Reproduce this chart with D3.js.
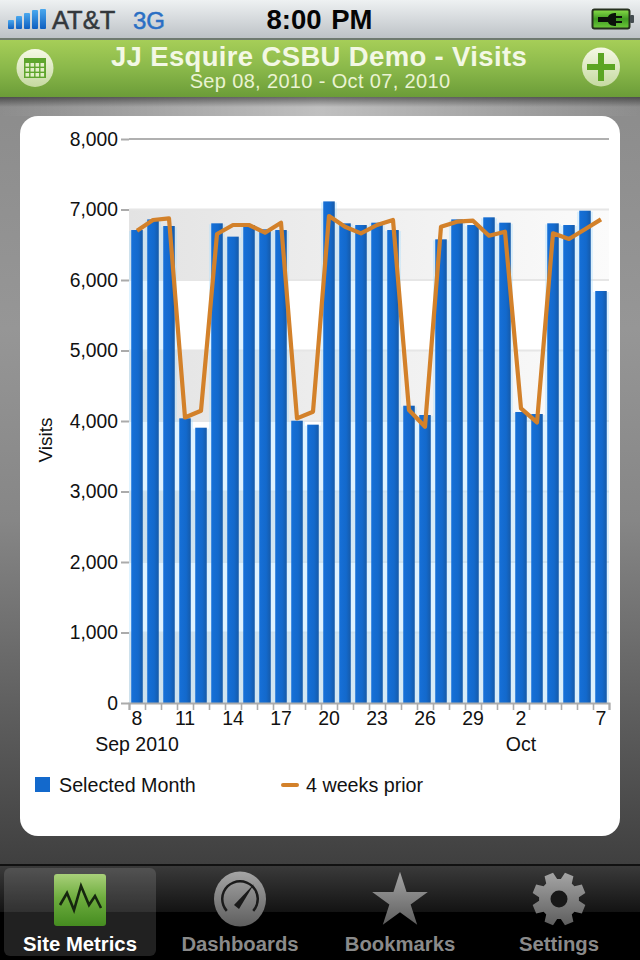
<!DOCTYPE html>
<html>
<head>
<meta charset="utf-8">
<script src="https://cdn.jsdelivr.net/npm/d3@7/dist/d3.min.js"></script>
<style>
  html, body { margin: 0; padding: 0; background: #000; }
  svg { display: block; }
  text { font-family: "Liberation Sans", Arial, sans-serif; }
</style>
</head>
<body>
<svg id="screen" width="640" height="960"></svg>
<script>
// Daily visits, Sep 8 - Oct 7, 2010
const days = ["8","9","10","11","12","13","14","15","16","17","18","19","20","21","22","23","24","25","26","27","28","29","30","1","2","3","4","5","6","7"];
const selectedMonth = [6709,6860,6766,4038,3905,6804,6615,6780,6719,6709,4004,3948,7115,6804,6780,6813,6709,4217,4085,6577,6860,6780,6889,6813,4128,4099,6804,6780,6983,5844];
const weeksPrior = [6700,6851,6874,4050,4146,6652,6780,6780,6671,6813,4038,4132,6908,6756,6662,6780,6851,4156,3919,6756,6827,6841,6628,6685,4178,3980,6662,6582,6719,6860];
const labelledDayIndexes = [0,3,6,9,12,15,18,21,24,29];
const monthLabels = [{index: 0, text: "Sep 2010"}, {index: 24, text: "Oct"}];
const yTicks = [0,1000,2000,3000,4000,5000,6000,7000,8000];
const shadedBands = [[0,1000],[2000,3000],[4000,5000],[6000,7000]];
const legendItems = ["Selected Month", "4 weeks prior"];
const tabs = ["Site Metrics", "Dashboards", "Bookmarks", "Settings"];

const svg = d3.select("#screen");
const defs = svg.append("defs");

function gradient(id, stops, dir) {
  const g = defs.append("linearGradient").attr("id", id)
    .attr("x1", 0).attr("y1", 0)
    .attr("x2", dir === "h" ? 1 : 0).attr("y2", dir === "h" ? 0 : 1);
  stops.forEach(([o, c, a]) => g.append("stop").attr("offset", o).attr("stop-color", c).attr("stop-opacity", a === undefined ? 1 : a));
}
gradient("statusBg", [[0,"#eef1f2"],[0.5,"#d5d9dc"],[1,"#bcc1c5"]]);
gradient("headerBg", [[0,"#a6ce58"],[0.5,"#8ab84a"],[1,"#6b9c38"]]);
gradient("pageBg", [[0,"#8c8c8c"],[0.3,"#969696"],[0.55,"#868686"],[0.8,"#5e5e5e"],[1,"#3f3f3f"]]);
gradient("pageGlow", [[0,"#fff",0],[0.5,"#fff",0.45],[1,"#fff",0]], "h");
gradient("headerShadow", [[0,"#000",0.45],[1,"#000",0]]);
gradient("tabTop", [[0,"#3a3a3a"],[1,"#131313"]]);
gradient("bandFill", [[0,"#e3e3e3"],[1,"#fbfbfb"]], "h");
gradient("barFill", [[0,"#1670d8"],[0.6,"#1369cc"],[1,"#165aa8"]], "h");
gradient("signalFill", [[0,"#4aa8ee"],[1,"#0f5fc0"]]);
gradient("discFill", [[0,"#f6f9e6"],[1,"#c5d9a0"]]);
gradient("batteryFill", [[0,"#8be04a"],[0.5,"#3f9a22"],[1,"#6ecb3a"]]);
gradient("tabGreen", [[0,"#a9d07a"],[0.45,"#6fae3f"],[1,"#458c20"]]);
gradient("tabIcon", [[0,"#a5a5a5"],[1,"#5e5e5e"]]);

// ---- page chrome ----
svg.append("rect").attr("y", 97).attr("width", 640).attr("height", 770).attr("fill", "url(#pageBg)");
svg.append("rect").attr("y", 97).attr("width", 640).attr("height", 19).attr("fill", "url(#pageGlow)");
svg.append("rect").attr("y", 97).attr("width", 640).attr("height", 10).attr("fill", "url(#headerShadow)");

svg.append("rect").attr("width", 640).attr("height", 39).attr("fill", "url(#statusBg)");
svg.append("rect").attr("y", 38).attr("width", 640).attr("height", 2).attr("fill", "#6f7a70");
svg.append("rect").attr("y", 40).attr("width", 640).attr("height", 57).attr("fill", "url(#headerBg)");

// signal strength
svg.append("g").selectAll("rect").data([20,16,13,10,9]).join("rect")
  .attr("x", (d, i) => 8 + i * 8).attr("y", d => d).attr("width", 6).attr("height", d => 29 - d)
  .attr("rx", 1).attr("fill", "url(#signalFill)");

svg.append("text").attr("x", 52).attr("y", 29).attr("font-size", 25.5).attr("fill", "#33383c")
  .attr("font-weight", 400).attr("stroke", "#33383c").attr("stroke-width", 0.5).text("AT&T");
svg.append("text").attr("x", 133).attr("y", 29).attr("font-size", 24).attr("fill", "#2a6fc4")
  .attr("stroke", "#2a6fc4").attr("stroke-width", 0.5).text("3G");
svg.append("text").attr("x", 319.5).attr("y", 29).attr("text-anchor", "middle").attr("font-size", 27.5)
  .attr("font-weight", 700).attr("fill", "#050505").attr("word-spacing", 2).text("8:00 PM");

// battery with charging plug
const battery = svg.append("g");
battery.append("rect").attr("x", 592.5).attr("y", 9.5).attr("width", 37).attr("height", 19).attr("rx", 2)
  .attr("fill", "url(#batteryFill)").attr("stroke", "#26301f").attr("stroke-width", 2);
battery.append("rect").attr("x", 630).attr("y", 15).attr("width", 4).attr("height", 8).attr("rx", 1).attr("fill", "#444c50");
battery.append("path").attr("fill", "#0b120a")
  .attr("d", "M598 17h10c1-3 4-4 8-4v3h6v2h-6v3h6v2h-6v3c-4 0-7-1-8-4h-10z");

svg.append("text").attr("x", 319).attr("y", 66).attr("text-anchor", "middle").attr("font-size", 27.5)
  .attr("font-weight", 700).attr("fill", "#f3f8e4").attr("letter-spacing", 0.35).text("JJ Esquire CSBU Demo - Visits");
svg.append("text").attr("x", 320).attr("y", 88).attr("text-anchor", "middle").attr("font-size", 20)
  .attr("fill", "#eaf3d2").attr("letter-spacing", 0.35).text("Sep 08, 2010 - Oct 07, 2010");

// calendar button
svg.append("ellipse").attr("cx", 35).attr("cy", 68).attr("rx", 18.5).attr("ry", 19).attr("fill", "url(#discFill)");
const cal = svg.append("g");
cal.append("rect").attr("x", 24).attr("y", 58).attr("width", 22).attr("height", 20).attr("fill", "#5ea52c");
cal.selectAll("rect.cell").data(d3.cross(d3.range(4), d3.range(3))).join("rect").attr("class", "cell")
  .attr("x", d => 25.5 + d[0] * 5).attr("y", d => 63 + d[1] * 5).attr("width", 3.6).attr("height", 3.6).attr("fill", "#e4efc8");

// add button
svg.append("ellipse").attr("cx", 601).attr("cy", 67).attr("rx", 19).attr("ry", 19.5).attr("fill", "url(#discFill)");
svg.append("rect").attr("x", 598).attr("y", 53).attr("width", 6).attr("height", 28).attr("fill", "#5ca523");
svg.append("rect").attr("x", 587).attr("y", 64).attr("width", 28).attr("height", 6).attr("fill", "#5ca523");

// white card behind the chart
svg.append("rect").attr("x", 20).attr("y", 116).attr("width", 600).attr("height", 720).attr("rx", 18).attr("fill", "#fff");

// ---- chart ----
const x = d3.scaleBand().domain(d3.range(days.length)).range([129, 609]).paddingInner(0.28).paddingOuter(0.14);
const xEdges = d3.scaleLinear().domain([0, days.length]).range([129, 609]);
const y = d3.scaleLinear().domain([0, 8000]).range([703, 139]);
const chart = svg.append("g");

chart.append("g").selectAll("rect").data(shadedBands).join("rect")
  .attr("x", 129).attr("width", 480)
  .attr("y", d => y(d[1])).attr("height", d => y(d[0]) - y(d[1]))
  .attr("fill", "url(#bandFill)");

// horizontal grid: the top rule is darker than the others
chart.append("g").selectAll("line").data(yTicks.filter(t => t > 0)).join("line")
  .attr("x1", 129).attr("x2", 609)
  .attr("y1", d => y(d)).attr("y2", d => y(d))
  .attr("stroke", d => d === 8000 ? "#b0b0b0" : "#e6e6e6").attr("stroke-width", 2);

// soft light-blue glow in the gaps between columns
chart.append("g").selectAll("rect").data(selectedMonth).join("rect")
  .attr("x", (d, i) => x(i) - 2.2).attr("width", x.bandwidth() + 4.4)
  .attr("y", d => y(d) + 1).attr("height", d => y(0) - y(d) - 1)
  .attr("fill", "#a8dcff").attr("opacity", 0.38);

chart.append("g").selectAll("rect").data(selectedMonth).join("rect")
  .attr("x", (d, i) => x(i)).attr("width", x.bandwidth())
  .attr("y", d => y(d)).attr("height", d => y(0) - y(d))
  .attr("fill", "url(#barFill)");

const yAxis = d3.axisLeft(y).tickValues(yTicks).tickSize(8).tickPadding(3).tickFormat(d3.format(","));
const yG = chart.append("g").attr("transform", "translate(129,0)").call(yAxis);
yG.select(".domain").remove();
yG.selectAll("line").attr("stroke", "#ababab").attr("stroke-width", 2);
yG.selectAll("text").attr("font-size", 19.3).attr("fill", "#111").attr("font-family", "Liberation Sans");

const tickG = chart.append("g").attr("transform", "translate(0,703)")
  .call(d3.axisBottom(xEdges).tickValues(d3.range(days.length + 1)).tickSize(7).tickFormat(""));
tickG.select(".domain").attr("stroke", "#ababab").attr("stroke-width", 2);
tickG.selectAll("line").attr("stroke", "#ababab").attr("stroke-width", 1.6);

const labelG = chart.append("g").attr("transform", "translate(0,709)")
  .call(d3.axisBottom(x).tickValues(labelledDayIndexes).tickSize(0).tickPadding(0).tickFormat(i => days[i]));
labelG.select(".domain").remove();
labelG.selectAll("text").attr("font-size", 19.5).attr("fill", "#111").attr("font-family", "Liberation Sans").attr("dy", "0.8em");

chart.append("g").selectAll("text").data(monthLabels).join("text")
  .attr("x", d => x(d.index) + x.bandwidth() / 2).attr("y", 751).attr("text-anchor", "middle")
  .attr("font-size", 19.5).attr("fill", "#111").text(d => d.text);

chart.append("text").attr("transform", "translate(52,440) rotate(-90)").attr("text-anchor", "middle")
  .attr("font-size", 19).attr("fill", "#111").text("Visits");

const line = d3.line().x((d, i) => x(i) + x.bandwidth() / 2).y(d => y(d));
chart.append("path").datum(weeksPrior).attr("d", line).attr("fill", "none")
  .attr("stroke", "#d3812a").attr("stroke-width", 4.2).attr("stroke-linejoin", "round");

// legend
const legend = svg.append("g");
legend.append("rect").attr("x", 35).attr("y", 777).attr("width", 15).attr("height", 15).attr("fill", "#1369cc");
legend.append("line").attr("x1", 283).attr("x2", 297).attr("y1", 785).attr("y2", 785)
  .attr("stroke", "#d3812a").attr("stroke-width", 4).attr("stroke-linecap", "round");
legend.selectAll("text").data(legendItems).join("text")
  .attr("x", (d, i) => i ? 306 : 59).attr("y", 792).attr("font-size", 19.7).attr("fill", "#111").text(d => d);

// ---- tab bar ----
svg.append("rect").attr("y", 864).attr("width", 640).attr("height", 96).attr("fill", "#000");
svg.append("rect").attr("y", 866).attr("width", 640).attr("height", 46).attr("fill", "url(#tabTop)");
svg.append("rect").attr("y", 864).attr("width", 640).attr("height", 2).attr("fill", "#111");
svg.append("rect").attr("x", 4).attr("y", 868).attr("width", 152).attr("height", 88).attr("rx", 6).attr("fill", "#fff").attr("opacity", 0.13);

// site metrics icon
svg.append("rect").attr("x", 54).attr("y", 874).attr("width", 52).attr("height", 52).attr("rx", 3).attr("fill", "url(#tabGreen)");
svg.append("path").attr("fill", "none").attr("stroke", "#16260f").attr("stroke-width", 2.6).attr("stroke-linejoin", "miter")
  .attr("d", "M60 905L67 893L74 910L81 886L89 905L95 896L101 908");

// dashboards gauge
const gauge = svg.append("g").attr("transform", "translate(240,899)");
gauge.append("ellipse").attr("rx", 26).attr("ry", 27.5).attr("fill", "url(#tabIcon)");
gauge.append("path").attr("d", d3.arc().innerRadius(16.5).outerRadius(19).startAngle(-2.3).endAngle(2.3)()).attr("fill", "#1a1a1a");
gauge.append("path").attr("d", "M-6 6L14 -15L-1 10Z").attr("fill", "#1a1a1a");

// bookmarks star
svg.append("path").attr("transform", "translate(400,901)")
  .attr("d", d3.symbol().type(d3.symbolStar).size(960)()).attr("fill", "url(#tabIcon)");

// settings gear
const gearPoints = d3.range(8).flatMap(k => {
  const a = k * Math.PI / 4 + Math.PI / 8;
  return [[a - 0.3, 20], [a - 0.17, 27], [a + 0.17, 27], [a + 0.3, 20]];
});
const gear = svg.append("g").attr("transform", "translate(559,899)");
gear.append("path").attr("d", d3.lineRadial().angle(d => d[0]).radius(d => d[1]).curve(d3.curveLinearClosed)(gearPoints)).attr("fill", "url(#tabIcon)");
gear.append("circle").attr("r", 8.5).attr("fill", "#181818");

svg.append("g").selectAll("text").data(tabs).join("text")
  .attr("x", (d, i) => [80, 240, 400, 559][i]).attr("y", 951).attr("text-anchor", "middle")
  .attr("font-size", 20.3).attr("font-weight", 700).attr("fill", (d, i) => i ? "#8a8a8a" : "#fff").text(d => d);
</script>
</body>
</html>
